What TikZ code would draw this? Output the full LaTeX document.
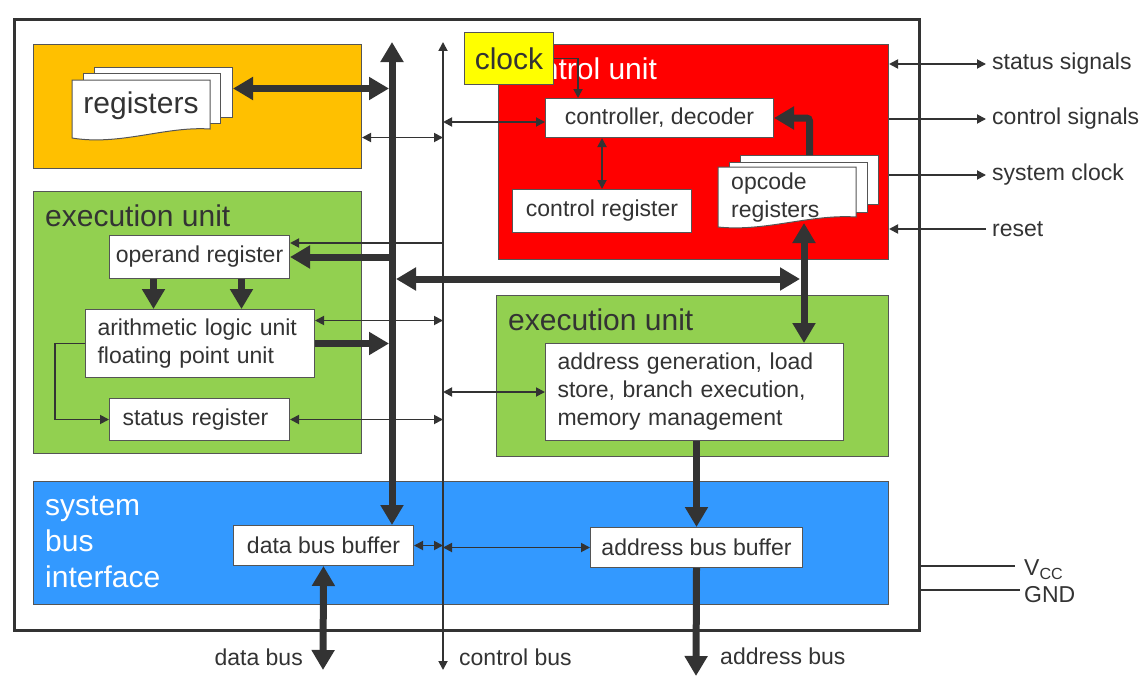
\documentclass[tikz,border=0pt]{standalone}
\usepackage{fontspec}
\setmainfont{Liberation Sans}
\usetikzlibrary{arrows.meta}

\definecolor{ink}{HTML}{333333}
\definecolor{edge}{HTML}{555555}
\definecolor{regorange}{HTML}{FFC000}
\definecolor{exgreen}{HTML}{92D050}
\definecolor{cured}{HTML}{FF0000}
\definecolor{sbblue}{HTML}{3399FF}
\definecolor{clkyellow}{HTML}{FFFF00}

\tikzset{
  unitbox/.style={draw=edge, line width=1pt, anchor=north west, inner sep=0pt},
  textbox/.style={draw=edge, line width=1pt, fill=white, anchor=north west, inner sep=0pt,
    font=\fontsize{23}{28}\selectfont, text=ink},
  titletext/.style={anchor=west, inner sep=0pt, font=\fontsize{30}{36}\selectfont, text=ink, align=left},
  outlabel/.style={inner sep=0pt, font=\fontsize{23}{28}\selectfont, text=ink},
  sheetbox/.style={draw=edge, line width=1pt, fill=white},
  thickbus/.style={draw=ink, line width=7pt, -{Triangle[length=20pt,width=22pt]}},
  busboth/.style={thickbus, {Triangle[length=20pt,width=22pt]}-{Triangle[length=20pt,width=22pt]}},
  thinsig/.style={draw=ink, line width=1.8pt, -{Triangle[length=9pt,width=9pt]}},
  sigboth/.style={thinsig, {Triangle[length=9pt,width=9pt]}-{Triangle[length=9pt,width=9pt]}},
}

\begin{document}
\begin{tikzpicture}[x=1pt,y=-1pt]
\useasboundingbox (0,0) rectangle (1147,677);

\node[unitbox, draw=ink, line width=3pt, minimum width=905pt, minimum height=611pt] (chip) at (13,18) {};

\node[unitbox, fill=regorange, minimum width=328pt, minimum height=124pt] (regunit) at (33,44) {};
\node[unitbox, fill=exgreen, minimum width=328pt, minimum height=262pt] (exunit) at (33,191) {};
\node[unitbox, fill=cured, minimum width=390pt, minimum height=215pt] (ctrlunit) at (498,44) {};
\node[unitbox, fill=exgreen, minimum width=392pt, minimum height=161pt] (addrunit) at (496,295) {};
\node[unitbox, fill=sbblue, minimum width=855pt, minimum height=123pt] (sbunit) at (33,481) {};

\node[titletext] (extitle) at (45,216) {execution unit};
\node[titletext, text=white] (cutitle) at (510,69) {control unit};
\node[titletext] (addrtitle) at (508,320) {execution unit};
\node[titletext, text=white] (sbtitle) at (45,542) {system\\bus\\interface};

% register stacks
\node[sheetbox, anchor=north west, minimum width=138pt, minimum height=50pt] (reg3) at (94,67) {};
\node[sheetbox, anchor=north west, minimum width=137pt, minimum height=50pt] (reg2) at (83,73) {};
\draw[sheetbox] (72,80) -- (210,80) -- (210,129) .. controls (165,126) and (120,146) .. (72,138) -- cycle;
\node[outlabel, font=\fontsize{30}{36}\selectfont] (regs) at (141,106) {registers};

\node[sheetbox, anchor=north west, minimum width=138pt, minimum height=49pt] (opc3) at (740,155) {};
\node[sheetbox, anchor=north west, minimum width=138pt, minimum height=50pt] (opc2) at (729,162) {};
\draw[sheetbox] (718,167) -- (856,167) -- (856,217) .. controls (810,214) and (765,232) .. (718,227) -- cycle;
\node[outlabel, anchor=west, align=left] (opc) at (731,198) {opcode\\registers};

\node[textbox, minimum width=180pt, minimum height=43pt] (opreg) at (109,235) {operand register};
\node[textbox, minimum width=229pt, minimum height=68pt, inner xsep=12pt, text width=205pt, align=left] (alu) at (85,309) {arithmetic logic unit\\floating point unit};
\node[textbox, minimum width=180pt, minimum height=42pt, inner xsep=13pt, text width=154pt, align=left] (statreg) at (109,398) {status register};
\node[textbox, minimum width=228pt, minimum height=39pt] (ctrl) at (545,98) {controller, decoder};
\node[textbox, minimum width=179pt, minimum height=43pt] (ctrlreg) at (512,189) {control register};
\node[textbox, minimum width=298pt, minimum height=97pt, inner xsep=12pt, text width=274pt, align=left] (addr) at (545,343) {address generation, load\\store, branch execution,\\memory management};
\node[textbox, minimum width=180pt, minimum height=40pt] (dbb) at (233,525) {data bus buffer};
\node[textbox, minimum width=212pt, minimum height=40pt] (abb) at (590,527) {address bus buffer};

\node[unitbox, fill=clkyellow, minimum width=89pt, minimum height=52pt, font=\fontsize{30}{36}\selectfont, text=ink] (clock) at (464,32) {clock};

\coordinate (dtop) at (392,42);
\coordinate (ctop) at (443,42);
\coordinate (cbot) at (443,670);
\coordinate (opcbot) at (804,223);
\coordinate (xl) at (396,279);
\coordinate (xr) at (800,279);
\coordinate (dbus) at (323,670);
\coordinate (abus) at (696,676);

\node[outlabel, anchor=east] (dbuslbl) at (303,657) {data bus};
\node[outlabel, anchor=west] (cbuslbl) at (459,657) {control bus};
\node[outlabel, anchor=west] (abuslbl) at (720,656) {address bus};
\node[outlabel, anchor=west] (statlbl) at (992,64) {status signals};
\node[outlabel, anchor=west] (ctrllbl) at (992,119) {control signals};
\node[outlabel, anchor=west] (clklbl) at (992,175) {system clock};
\node[outlabel, anchor=west] (resetlbl) at (992,229) {reset};
\node[outlabel, anchor=west] (vcc) at (1024,570) {V\textsubscript{CC}};
\node[outlabel, anchor=west] (gnd) at (1024,595) {GND};

% thin signals
\draw[sigboth] (ctop) -- (cbot);
\draw[sigboth] ([yshift=-31pt]regunit.east) -- ([yshift=-31pt]regunit.east -| ctop);
\draw[sigboth] ([yshift=-4pt]ctrl.west -| ctop) -- ([yshift=-4pt]ctrl.west);
\draw[thinsig] (clock.east) -| ([xshift=33pt]ctrl.north west);
\draw[sigboth] (ctrlreg.north |- ctrl.south) -- (ctrlreg.north);
\draw[thinsig] ([yshift=14pt]opreg.east -| ctop) -- ([yshift=14pt]opreg.east);
\draw[sigboth] ([yshift=23pt]alu.east) -- ([yshift=23pt]alu.east -| ctop);
\draw[thinsig] (alu.west) -- ++(-30,0) |- (statreg.west);
\draw[sigboth] (statreg.east) -- (statreg.east -| ctop);
\draw[sigboth] (addr.west -| ctop) -- (addr.west);
\draw[sigboth] (dbb.east) -- (dbb.east -| ctop);
\draw[sigboth] (abb.west -| ctop) -- (abb.west);
\draw[sigboth, shorten >=6pt] (ctrlunit.east |- statlbl.west) -- (statlbl.west);
\draw[thinsig, shorten >=6pt] (ctrlunit.east |- ctrllbl.west) -- (ctrllbl.west);
\draw[thinsig, shorten >=6pt] (ctrlunit.east |- clklbl.west) -- (clklbl.west);
\draw[thinsig, shorten <=6pt] (resetlbl.west) -- (ctrlunit.east |- resetlbl.west);
\draw[ink, line width=1.8pt] ([yshift=4pt]vcc.west -| chip.east) -- ([xshift=-9pt,yshift=4pt]vcc.west);
\draw[ink, line width=1.8pt] ([yshift=5pt]gnd.west -| chip.east) -- ([xshift=-4pt,yshift=5pt]gnd.west);

% thick buses
\draw[busboth] (dtop) -- (dtop |- dbb.north);
\draw[busboth, shorten >=3pt] ([yshift=4pt]reg3.east) -- ([yshift=4pt]reg3.east -| dtop);
\draw[thickbus] (dtop |- opreg.east) -- (opreg.east);
\draw[thickbus, shorten >=3pt] (alu.east) -- (alu.east -| dtop);
\draw[thickbus] ([xshift=-46pt]opreg.south) -- ([xshift=-46pt]opreg.south |- alu.north);
\draw[thickbus] ([xshift=42pt]opreg.south) -- ([xshift=42pt]opreg.south |- alu.north);
\draw[busboth] (xl) -- (xr);
\draw[busboth] (opcbot) -- (opcbot |- addr.north);
\draw[thickbus, rounded corners=3pt] (opc3.north) |- (ctrl.east);
\draw[thickbus] (abb.north |- addr.south) -- (abb.north);
\draw[busboth] (dbb.south) -- (dbus);
\draw[thickbus] (abb.south) -- (abus);
\end{tikzpicture}
\end{document}
